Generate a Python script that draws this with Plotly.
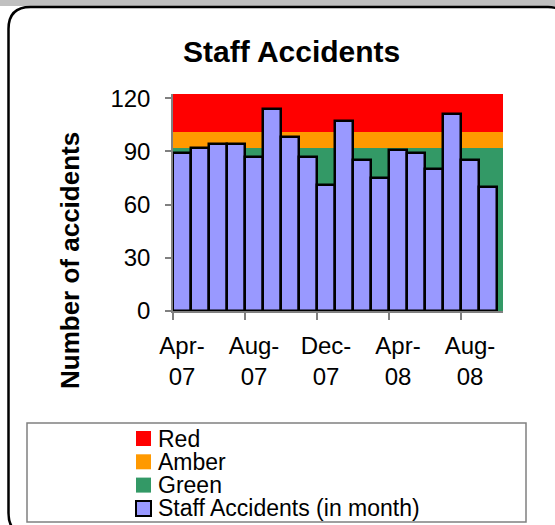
import plotly.graph_objects as go

months = ['Apr-07', 'May-07', 'Jun-07', 'Jul-07', 'Aug-07', 'Sep-07', 'Oct-07', 'Nov-07', 'Dec-07',
          'Jan-08', 'Feb-08', 'Mar-08', 'Apr-08', 'May-08', 'Jun-08', 'Jul-08', 'Aug-08', 'Sep-08']
accidents = [89, 92, 94, 94, 87, 114, 98, 87, 71, 107, 85, 75, 91, 89, 80, 111, 85, 70]

band_names = ['Green', 'Amber', 'Red']
band_edges = [0, 92, 101, 122.4]
band_colors = ['#339966', '#FF9900', '#FF0000']
bar_name = 'Staff Accidents (in month)'
bar_color = '#9999FF'

tick_every = 4

W, H = 555, 525
ML, MR, MT, MB = 173, 52, 94, 214
PW, PH = W - ML - MR, H - MT - MB
FONT = 'Liberation Sans, Arial, sans-serif'

x_lo = -0.5
x_hi = -0.5 + PW / 18.0


def px_x(px):
    return (px - ML) / PW


def px_y(py):
    return (H - MB - py) / PH


def ticklabel(m):
    mon, yr = m.split('-')
    return mon + '-<br>' + yr


xs = list(range(len(months)))

fig = go.Figure()

# threshold bands behind the bars
for name, lo, hi, col in zip(band_names, band_edges[:-1], band_edges[1:], band_colors):
    fig.add_trace(go.Bar(
        x=[(x_lo + x_hi) / 2], y=[hi - lo], base=[lo], width=[x_hi - x_lo],
        marker=dict(color=col, line=dict(width=0)),
        name=name, hoverinfo='skip', showlegend=False))

fig.add_trace(go.Bar(
    x=xs, y=accidents, width=1,
    marker=dict(color=bar_color, line=dict(color='black', width=2.5)),
    name=bar_name, showlegend=False,
    customdata=months, hovertemplate='%{customdata}: %{y}<extra></extra>'))

shapes = []
annotations = []

# grey strip at the top and rounded frame
shapes.append(dict(type='rect', xref='paper', yref='paper', layer='below',
                   x0=px_x(-5), x1=px_x(W + 5), y0=px_y(-5), y1=px_y(6),
                   fillcolor='#C0C0C0', line=dict(width=0)))
fl, ft, fr, fb, rad = 8.5, 7, 570, 535, 22
path = ('M {} {} L {} {} Q {} {} {} {} L {} {} Q {} {} {} {} L {} {} Q {} {} {} {} L {} {} Q {} {} {} {} Z'.format(
    px_x(fl), px_y(fb - rad), px_x(fl), px_y(ft + rad),
    px_x(fl), px_y(ft), px_x(fl + rad), px_y(ft),
    px_x(fr - rad), px_y(ft),
    px_x(fr), px_y(ft), px_x(fr), px_y(ft + rad),
    px_x(fr), px_y(fb - rad),
    px_x(fr), px_y(fb), px_x(fr - rad), px_y(fb),
    px_x(fl + rad), px_y(fb),
    px_x(fl), px_y(fb), px_x(fl), px_y(fb - rad)))
shapes.append(dict(type='path', xref='paper', yref='paper', path=path,
                   fillcolor='white', line=dict(color='black', width=2.5), layer='below'))

# legend box
shapes.append(dict(type='rect', xref='paper', yref='paper',
                   x0=px_x(27), x1=px_x(526), y0=px_y(423), y1=px_y(522),
                   line=dict(color='#808080', width=1.5), fillcolor='rgba(0,0,0,0)'))

leg_items = [(band_names[2], band_colors[2], None),
             (band_names[1], band_colors[1], None),
             (band_names[0], band_colors[0], None),
             (bar_name, bar_color, 'black')]
row0, row_step = 438.5, 23.3
for i, (name, col, edge) in enumerate(leg_items):
    cy = row0 + i * row_step
    shapes.append(dict(type='rect', xref='paper', yref='paper',
                       x0=px_x(136), x1=px_x(151), y0=px_y(cy - 7.5), y1=px_y(cy + 7.5),
                       fillcolor=col,
                       line=dict(color=edge or col, width=2 if edge else 0)))
    annotations.append(dict(xref='paper', yref='paper', x=px_x(156), y=px_y(cy),
                            xanchor='left', yanchor='middle', showarrow=False,
                            text=name, font=dict(family=FONT, size=23, color='black')))

annotations.append(dict(xref='paper', yref='paper', x=px_x(291), y=px_y(52),
                        xanchor='center', yanchor='middle', showarrow=False,
                        text='<b>Staff Accidents</b>',
                        font=dict(family=FONT, size=30, color='black')))
annotations.append(dict(xref='paper', yref='paper', x=px_x(70), y=px_y(261),
                        xanchor='center', yanchor='middle', showarrow=False, textangle=-90,
                        text='<b>Number of accidents</b>',
                        font=dict(family=FONT, size=26, color='black')))

fig.update_layout(
    width=W, height=H,
    margin=dict(l=ML, r=MR, t=MT, b=MB),
    paper_bgcolor='white', plot_bgcolor='rgba(0,0,0,0)',
    barmode='overlay', bargap=0,
    showlegend=False,
    shapes=shapes, annotations=annotations,
    font=dict(family=FONT, color='black'),
    xaxis=dict(range=[x_lo, x_hi], showgrid=False, zeroline=False,
               showline=True, linecolor='#808080', linewidth=1.5,
               tickmode='array', tickvals=xs[::tick_every],
               ticktext=[ticklabel(m) for m in months[::tick_every]],
               ticks='', ticklabelstandoff=12,
               tickfont=dict(family=FONT, size=24, color='black'),
               minor=dict(tickmode='array',
                          tickvals=[v - 0.5 for v in xs[::tick_every]],
                          ticks='outside', ticklen=7, tickwidth=1.5, tickcolor='#808080')),
    yaxis=dict(range=[band_edges[0], band_edges[-1]], showgrid=False, zeroline=False,
               showline=True, linecolor='#808080', linewidth=1.5,
               tickvals=[0, 30, 60, 90, 120], ticks='outside', ticklen=6,
               tickwidth=1.5, tickcolor='#808080', ticklabelstandoff=10,
               tickfont=dict(family=FONT, size=24, color='black')),
)

# the page's default body margin would shift the chart by 8px
fig.write_html('out.html', config={'displayModeBar': False},
               post_script="document.body.style.margin='0';")
